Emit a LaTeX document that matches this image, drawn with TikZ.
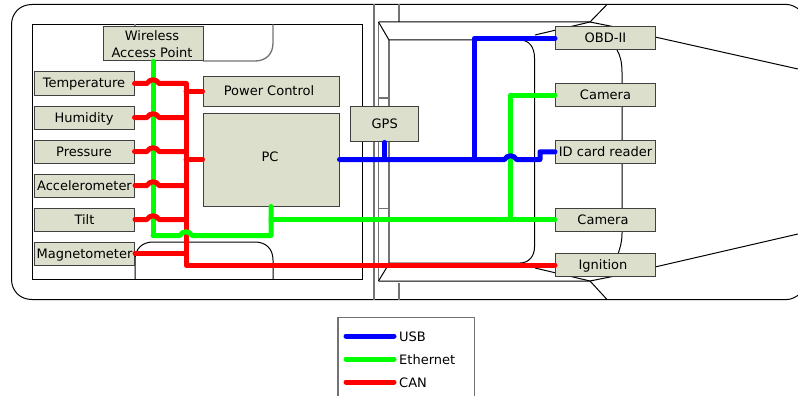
\documentclass[tikz,border=0pt]{standalone}
\usepackage{fontspec}
\setmainfont{DejaVu Sans}
\definecolor{boxfill}{HTML}{DCDFCB}
\begin{document}
\begin{tikzpicture}
	[x=1pt,y=-1pt,
	box/.style={rectangle,draw=black!75,fill=boxfill,line width=1pt,inner sep=0pt,font=\fontsize{13}{17}\selectfont,align=center},
	sensor/.style={box,minimum width=100pt,minimum height=23pt,text height=10pt,text depth=1pt},
	body/.style={black,line width=1pt},
	frame/.style={black!55,line width=1.3pt},
	usb/.style={blue,line width=5pt,line cap=round,line join=round},
	eth/.style={green,line width=5pt,line cap=round,line join=round},
	can/.style={red,line width=5pt,line cap=round,line join=round}]
	\useasboundingbox (0,0) rectangle (798,396);
	\clip (0,0) rectangle (798,396);
	% car
	\draw[body] (787,4.5)--(32,4.5)
		.. controls (20,4.5) and (11.5,13) .. (11.5,25)--(11.5,279)
		.. controls (11.5,291) and (20,299.5) .. (32,299.5)--(787,299.5);
	\draw[body] (787,4.5) .. controls (791,4.5) and (795,6.5) .. (800,10);
	\draw[body] (787,299.5) .. controls (791,299.5) and (795,297.5) .. (800,294);
	\draw[body] (32,24.5) rectangle (362.5,279);
	\draw[frame] (374,4)--(374,299.5);
	\draw[frame] (399,4.5)--(399,22);
	\draw[frame] (399,283)--(399,299.5);
	\draw[body] (378.5,22)--(590,22)--(607,4.5);
	\draw[body] (378.5,281)--(590,281)--(607,299.5);
	\draw[frame] (378.5,22)--(378.5,281);
	\draw[frame] (389,40)--(389,263);
	\draw[body] (378.5,22)--(389,40);
	\draw[body] (378.5,281)--(387,267);
	\draw[frame] (378.5,98)--(389,98);
	\draw[frame] (378.5,208.5)--(389,208.5);
	\draw[body] (389,40)--(520,40) .. controls (529,40) and (534.5,47) .. (534.5,58)--(534.5,247)
		.. controls (534.5,256) and (529,263) .. (520,263)--(389,263);
	\draw[body] (535,35)--(590,22)--(615,27);
	\draw[body] (535,268)--(590,281)--(615,276);
	\draw[body] (655,37)--(798,69);
	\draw[body] (655,267)--(798,234);
	\draw[body] (617,50) .. controls (620,55) and (622,62) .. (622,72)--(622,234)
		.. controls (622,242) and (620,248) .. (618,254);
	\draw[frame] (135,24.5)--(135,27);
	\draw[frame] (203,61)--(255,61) .. controls (266,61) and (273,54) .. (273,43)--(273,24.5);
	\draw[body] (135,279)--(135,260) .. controls (135,249) and (142,242) .. (153,242)--(255,242)
		.. controls (266,242) and (273,249) .. (273,260)--(273,279);
	% boxes
	\node[box,name=wap,minimum width=100pt,minimum height=34pt] at (153,44) {\hspace*{-2pt}Wireless\\\hspace*{-2pt}Access Point};
	\node[sensor,name=temp] at (84,83.5) {Temperature};
	\node[sensor,name=humid] at (84,117.5) {Humidity};
	\node[sensor,name=press] at (84,151.5) {Pressure};
	\node[sensor,name=accel] at (84.5,185.5) {Accelerometer};
	\node[sensor,name=tilt] at (84.5,219.5) {Tilt};
	\node[sensor,name=magneto] at (84.5,253.5) {Magnetometer};
	\node[sensor,name=power,minimum width=136pt,minimum height=30pt] at (271,91.2) {\hspace*{-4pt}Power Control};
	\node[sensor,name=pc,minimum width=136pt,minimum height=93pt] at (271,159.5) {\hspace*{-2pt}\raisebox{2.5pt}{PC}};
	\node[sensor,name=gps,minimum width=68.5pt,minimum height=35.5pt] at (384.7,124.2) {GPS};
	\node[sensor,name=obd] at (605.5,38.3) {OBD-II};
	\node[sensor,name=cama] at (605.5,95) {Camera};
	\node[sensor,name=idcard] at (605.5,151.8) {ID card reader};
	\node[sensor,name=camb] at (605.5,219.5) {\hspace*{-5pt}Camera};
	\node[sensor,name=ignition] at (605.5,265) {\hspace*{-5pt}Ignition};
	% legend
	\draw[frame] (338,400)--(338,317.5)--(474.5,317.5)--(474.5,400);
	\node[font=\fontsize{13}{17}\selectfont,anchor=west,inner sep=5pt,name=usblabel] at (394,336.5) {USB};
	\node[font=\fontsize{13}{17}\selectfont,anchor=west,inner sep=5pt,name=ethlabel] at (394,359.5) {Ethernet};
	\node[font=\fontsize{13}{17}\selectfont,anchor=west,inner sep=5pt,name=canlabel] at (394,382.5) {CAN};
	\coordinate (usbstart) at (346,336);
	\coordinate (ethstart) at (346,359);
	\coordinate (canstart) at (346,382);
	\draw[usb] (usbstart)--(394,336);
	\draw[eth] (ethstart)--(394,359);
	\draw[can] (canstart)--(394,382);
	% ethernet under the can hops
	\coordinate (ethcorner) at (153,235.5);
	\coordinate (ethtee) at (271,219.5);
	\coordinate (ethup) at (510.5,219.5);
	\draw[eth] (wap.south)--(ethcorner);
	\draw[eth] (ethtee)--(camb.west);
	\draw[eth] (ethup)--(510.5,95)--(cama.west);
	% can
	\coordinate (canbus) at (186,83.5);
	\coordinate (canbend) at (186,265);
	\draw[can] (canbus)--(canbend)--(ignition.west);
	\draw[can] (186,91.2)--(power.west);
	\draw[can] (186,159.5)--(pc.west);
	\draw[can] (temp.east)--(147,83.5) .. controls (149.5,78.5) and (156.5,78.5) .. (159,83.5)--(canbus);
	\draw[can] (humid.east)--(147,117.5) .. controls (149.5,112.5) and (156.5,112.5) .. (159,117.5)--(186,117.5);
	\draw[can] (press.east)--(147,151.5) .. controls (149.5,146.5) and (156.5,146.5) .. (159,151.5)--(186,151.5);
	\draw[can] (accel.east)--(147,185.5) .. controls (149.5,180.5) and (156.5,180.5) .. (159,185.5)--(186,185.5);
	\draw[can] (tilt.east)--(147,219.5) .. controls (149.5,214.5) and (156.5,214.5) .. (159,219.5)--(186,219.5);
	\draw[can] (magneto.east)--(186,253.5);
	% ethernet over the can bus
	\draw[eth] (ethcorner)--(180,235.5) .. controls (182.5,230.5) and (189.5,230.5) .. (192,235.5)--(271,235.5)--(pc.south);
	% usb
	\coordinate (usbtee) at (474.5,159.5);
	\draw[usb] (gps.south)--(384.7,159.5);
	\draw[usb] (usbtee)--(474.5,38.3)--(obd.west);
	\draw[usb] (pc.east)--(504.5,159.5) .. controls (507,154.5) and (514,154.5) .. (516.5,159.5)--(540,159.5)--(540,151.8)--(idcard.west);
\end{tikzpicture}
\end{document}
